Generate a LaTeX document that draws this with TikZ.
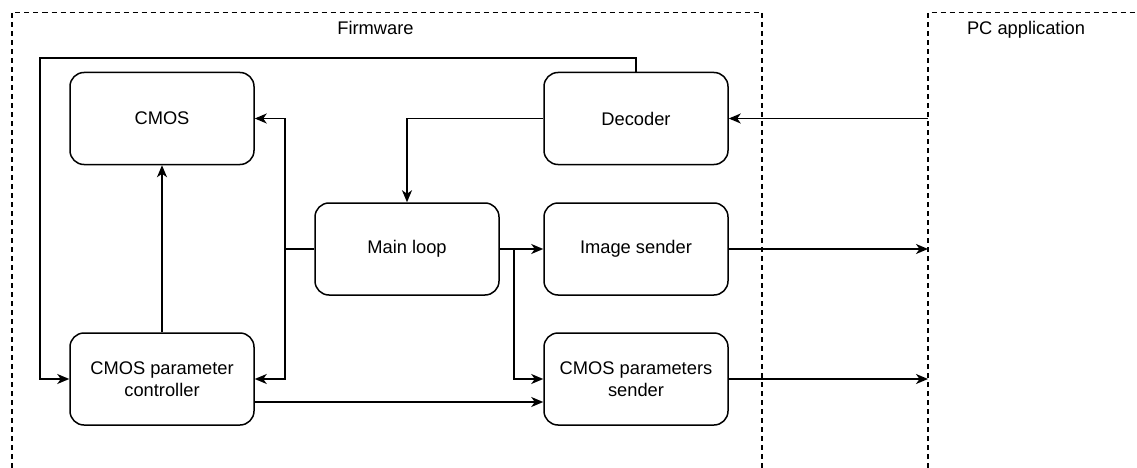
\documentclass[tikz,border=0pt]{standalone}
\usepackage{fontspec}
\setmainfont{Liberation Sans}
\usetikzlibrary{arrows.meta}
\begin{document}
\begin{tikzpicture}[x=1pt,y=-1pt,
  block/.style={draw=black, line width=1.5pt, rounded corners=14pt,
    minimum width=184pt, minimum height=92pt, inner sep=0pt, align=center,
    font=\fontsize{18.3}{21.5}\selectfont},
  wire/.style={draw=black, line width=1.5pt},
  arr/.style={wire, -{Stealth[length=12pt,width=10pt,inset=3.5pt]}},
  region/.style={draw=black, line width=1.3pt, dash pattern=on 5pt off 4pt},
  title/.style={font=\fontsize{18.3}{21.5}\selectfont, inner sep=0pt}]
\useasboundingbox[fill=white] (0,0) rectangle (1137,468);

% dashed regions
\draw[region] (12,468) -- (12,12.5) -- (762,12.5) -- (762,468);
\draw[region] (928,468) -- (928,12.5) -- (1137,12.5);
\node[title] (fwlabel) at (375.5,27.5) {Firmware};
\node[title] (pclabel) at (1026,29.5) {PC application};

% blocks
\node[block] (cmos) at (162,118.5) {CMOS};
\node[block] (dec)  at (636,118.5) {Decoder};
\node[block] (main) at (407,249) {Main loop};
\node[block] (img)  at (636,249) {Image sender};
\node[block] (ctrl) at (162,379) {CMOS parameter\\controller};
\node[block] (cps)  at (636,379) {CMOS parameters\\sender};

% junctions and edge points
\coordinate (pcin)   at (928,118.5);
\coordinate (pcimg)  at (928,249);
\coordinate (pccps)  at (928,379);
\coordinate (loop)   at (40,58);
\coordinate (mlsplit) at (285,249);
\coordinate (brsplit) at (514,249);

% connectors
\draw[arr] (pcin) -- (dec.east);
\draw[arr] (dec.west) -| (main.north);
\draw[arr] (dec.north) |- (loop) |- (ctrl.west);
\draw[wire] (main.west) -- (mlsplit);
\draw[arr] (mlsplit) |- (cmos.east);
\draw[arr] (mlsplit) |- (ctrl.east);
\draw[arr] (main.east) -- (img.west);
\draw[arr] (brsplit) |- (cps.west);
\draw[arr] (ctrl.north) -- (cmos.south);
\draw[arr] ([yshift=-23pt]ctrl.east) -- ([yshift=-23pt]cps.west);
\draw[arr] (img.east) -- (pcimg);
\draw[arr] (cps.east) -- (pccps);
\end{tikzpicture}
\end{document}
